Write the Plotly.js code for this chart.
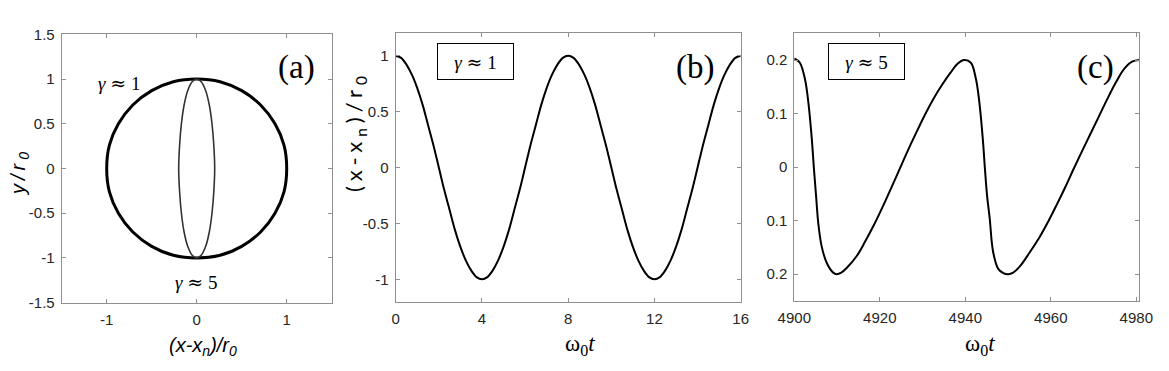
<!DOCTYPE html>
<html>
<head>
<meta charset="utf-8">
<script src="https://cdn.plot.ly/plotly-3.0.1.min.js"></script>
<style>html,body{margin:0;padding:0;background:#fff;}#chart{width:1169px;height:371px;}</style>
</head>
<body>
<div id="chart"></div>
<script>
// ---- Panel (a): trajectories in the x-y plane ----
const aCircleX = [1, 0.97, 0.87, 0.71, 0.5, 0.26, 0, -0.26, -0.5, -0.71, -0.87, -0.97, -1, -0.97, -0.87, -0.71, -0.5, -0.26, 0, 0.26, 0.5, 0.71, 0.87, 0.97, 1];
const aCircleY = [0, 0.26, 0.5, 0.71, 0.87, 0.97, 1, 0.97, 0.87, 0.71, 0.5, 0.26, 0, -0.26, -0.5, -0.71, -0.87, -0.97, -1, -0.97, -0.87, -0.71, -0.5, -0.26, 0];
const aEllipseX = [0.2, 0.19, 0.17, 0.14, 0.1, 0.05, 0, -0.05, -0.1, -0.14, -0.17, -0.19, -0.2, -0.19, -0.17, -0.14, -0.1, -0.05, 0, 0.05, 0.1, 0.14, 0.17, 0.19, 0.2];
const aEllipseY = [0, 0.26, 0.5, 0.71, 0.87, 0.97, 1, 0.97, 0.87, 0.71, 0.5, 0.26, 0, -0.26, -0.5, -0.71, -0.87, -0.97, -1, -0.97, -0.87, -0.71, -0.5, -0.26, 0];

// ---- Panel (b): gamma ~ 1 ----
const bTime = [0, 0.25, 0.5, 0.75, 1, 1.25, 1.5, 1.75, 2, 2.25, 2.5, 2.75, 3, 3.25, 3.5, 3.75, 4, 4.25, 4.5, 4.75, 5, 5.25, 5.5, 5.75, 6, 6.25, 6.5, 6.75, 7, 7.25, 7.5, 7.75, 8,
               8.25, 8.5, 8.75, 9, 9.25, 9.5, 9.75, 10, 10.25, 10.5, 10.75, 11, 11.25, 11.5, 11.75, 12, 12.25, 12.5, 12.75, 13, 13.25, 13.5, 13.75, 14, 14.25, 14.5, 14.75, 15, 15.25, 15.5, 15.75, 16];
const bDisp = [1, 0.98, 0.92, 0.83, 0.71, 0.56, 0.38, 0.2, 0, -0.2, -0.38, -0.56, -0.71, -0.83, -0.92, -0.98, -1, -0.98, -0.92, -0.83, -0.71, -0.56, -0.38, -0.2, 0, 0.2, 0.38, 0.56, 0.71, 0.83, 0.92, 0.98, 1,
               0.98, 0.92, 0.83, 0.71, 0.56, 0.38, 0.2, 0, -0.2, -0.38, -0.56, -0.71, -0.83, -0.92, -0.98, -1, -0.98, -0.92, -0.83, -0.71, -0.56, -0.38, -0.2, 0, 0.2, 0.38, 0.56, 0.71, 0.83, 0.92, 0.98, 1];

// ---- Panel (c): gamma ~ 5 ----
const cTime = [4900, 4901.3, 4902.5, 4903.3, 4904.1, 4904.6, 4905.1, 4905.6, 4906.4, 4907.6, 4909.1, 4909.9, 4911.0, 4912.3, 4914.6, 4916.5, 4918.5, 4920.5, 4922.5, 4924.5, 4926.5, 4928.5, 4930.5, 4932.5, 4934.5, 4936.5, 4938.2, 4939.7, 4941.3, 4942.5, 4943.3, 4944.1, 4944.6, 4945.1, 4945.7, 4946.5, 4947.7, 4948.9, 4950.0, 4951.2, 4952.8, 4955.0, 4957.5, 4959.5, 4961.4, 4963.4, 4965.3, 4967.2, 4969.2, 4971.2, 4973.2, 4975.2, 4977.2, 4979.0, 4980.7];
const cDisp = [0.203, 0.195, 0.164, 0.120, 0.052, -0.004, -0.054, -0.104, -0.148, -0.179, -0.197, -0.200, -0.197, -0.188, -0.166, -0.140, -0.110, -0.077, -0.042, -0.006, 0.030, 0.064, 0.097, 0.127, 0.153, 0.176, 0.193, 0.200, 0.195, 0.164, 0.120, 0.052, -0.004, -0.054, -0.095, -0.158, -0.190, -0.198, -0.200, -0.197, -0.185, -0.160, -0.129, -0.100, -0.070, -0.037, -0.004, 0.028, 0.061, 0.094, 0.127, 0.158, 0.184, 0.197, 0.200];

// ---- Tick labels ----
const aXTicks = [-1, 0, 1];
const aXTickText = ['-1', '0', '1'];
const aYTicks = [-1.5, -1, -0.5, 0, 0.5, 1, 1.5];
const aYTickText = ['-1.5', '-1', '-0.5', '0', '0.5', '1', '1.5'];
const bXTicks = [0, 4, 8, 12, 16];
const bXTickText = ['0', '4', '8', '12', '16'];
const bYTicks = [-1, -0.5, 0, 0.5, 1];
const bYTickText = ['-1', '-0.5', '0', '0.5', '1'];
const cXTicks = [4900, 4920, 4940, 4960, 4980];
const cXTickText = ['4900', '4920', '4940', '4960', '4980'];
const cYTicks = [-0.2, -0.1, 0, 0.1, 0.2];
const cYTickText = ['0.2', '0.1', '0', '0.1', '0.2'];

const W = 1169, H = 371;
const px = v => v / W;
const py = v => 1 - v / H;

const tickFont = {family: 'Liberation Sans, Arial, sans-serif', size: 15, color: '#262626'};
function axis(dom, range, tickvals, ticktext) {
  return {
    domain: dom, range: range, tickvals: tickvals, ticktext: ticktext,
    showgrid: false, zeroline: false, showline: true, mirror: 'ticks',
    linecolor: '#8f8f8f', linewidth: 1, ticks: 'inside', ticklen: 4,
    tickcolor: '#8f8f8f', tickfont: tickFont, ticklabelstandoff: 3, fixedrange: true
  };
}

function lineStyle(color, width) {
  return {color: color, width: width, shape: 'spline', smoothing: 1, simplify: false};
}

const traces = [
  {x: aCircleX, y: aCircleY, xaxis: 'x', yaxis: 'y', mode: 'lines', line: lineStyle('#000', 3)},
  {x: aEllipseX, y: aEllipseY, xaxis: 'x', yaxis: 'y', mode: 'lines', line: lineStyle('#333', 1.6)},
  {x: bTime, y: bDisp, xaxis: 'x2', yaxis: 'y2', mode: 'lines', line: lineStyle('#000', 2)},
  {x: cTime, y: cDisp, xaxis: 'x3', yaxis: 'y3', mode: 'lines', line: lineStyle('#000', 2)}
];

const serif = 'Liberation Serif, Times New Roman, serif';
const sans = 'Liberation Sans, Arial, sans-serif';
const NB = '\u00a0';
const approx = '<span style="font-family:DejaVu Serif">≈</span>';
function gam(v) { return '<i>γ</i>' + NB + approx + NB + v; }
function note(x, y, text, font, extra) {
  return Object.assign({xref: 'paper', yref: 'paper', x: px(x), y: py(y), text: text,
    showarrow: false, xanchor: 'center', yanchor: 'middle', font: font}, extra || {});
}

const labelFont = {family: serif, size: 33, color: '#000'};
const gamFont = {family: serif, size: 19, color: '#000'};
const boxed = {bordercolor: '#000', borderwidth: 1, borderpad: 0, width: 75, height: 35, bgcolor: '#fff'};

const annotations = [
  note(296, 68, '(a)', labelFont),
  note(695, 68, '(b)', labelFont),
  note(1095, 68, '(c)', labelFont),
  note(119, 83, gam('1'), gamFont),
  note(196, 282, gam('5'), gamFont),
  note(475.5, 61.5, gam('1'), gamFont, boxed),
  note(866, 61.5, gam('5'), gamFont, boxed),
  // axis titles
  note(203, 346, '<i>(x-x<sub>n</sub>)/r<sub>0</sub></i>', {family: sans, size: 20, color: '#000'}),
  note(19, 172, '<span style="letter-spacing:4px"><i>y/r<sub>0</sub></i></span>', {family: sans, size: 20, color: '#000'}, {textangle: -90}),
  note(355, 132, '<span style="letter-spacing:5px">(x-x<sub>n</sub>)/r<sub>0</sub></span>', {family: 'Lato, Noto Sans, sans-serif', size: 22, color: '#000'}, {textangle: -90}),
  note(580, 345, 'ω<sub>0</sub><i>t</i>', {family: serif, size: 23, color: '#000'}),
  note(980, 345, 'ω<sub>0</sub><i>t</i>', {family: serif, size: 23, color: '#000'})
];

const layout = {
  width: W, height: H, margin: {l: 0, r: 0, t: 0, b: 0},
  paper_bgcolor: '#fff', plot_bgcolor: '#fff', showlegend: false,
  xaxis: axis([px(61.7), px(331.7)], [-1.5, 1.5], aXTicks, aXTickText),
  yaxis: axis([py(302.7), py(34.3)], [-1.5, 1.5], aYTicks, aYTickText),
  xaxis2: Object.assign(axis([px(395.7), px(740.7)], [0, 16], bXTicks, bXTickText), {anchor: 'y2'}),
  yaxis2: Object.assign(axis([py(301.7), py(33.3)], [-1.2, 1.2], bYTicks, bYTickText), {anchor: 'x2'}),
  xaxis3: Object.assign(axis([px(794.3), px(1139.3)], [4900, 4980.7], cXTicks, cXTickText), {anchor: 'y3'}),
  yaxis3: Object.assign(axis([py(301), py(33.3)], [-0.25, 0.25], cYTicks, cYTickText), {anchor: 'x3'}),
  annotations: annotations
};

Plotly.newPlot('chart', traces, layout, {displayModeBar: false, staticPlot: true});
</script>
</body>
</html>
